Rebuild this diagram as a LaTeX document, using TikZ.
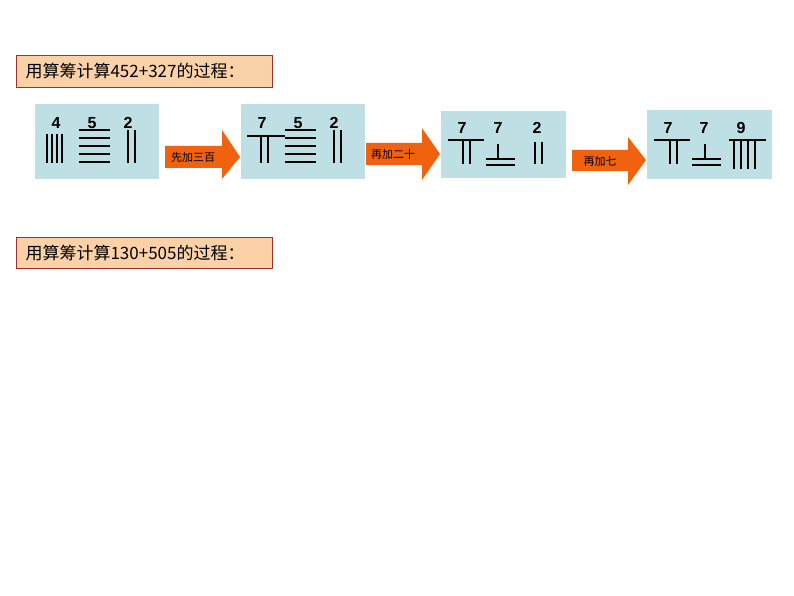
\documentclass[tikz,border=0pt]{standalone}
\usepackage{fontspec}
\setmainfont{Liberation Sans}
\newfontfamily\cjk{Noto Sans CJK SC}
\usetikzlibrary{shapes.arrows}
\definecolor{panelc}{HTML}{BEDFE3}
\definecolor{titlec}{HTML}{FBD1A8}
\definecolor{titleb}{HTML}{A0302A}
\definecolor{arrc}{HTML}{F0620F}
\tikzset{
 panel/.style={fill=panelc,draw=none},
 titlebox/.style={fill=titlec,draw=titleb,line width=0.8pt},
 rod/.style={line width=2.4pt,black},
 dig/.style={font=\bfseries\fontsize{16}{16}\selectfont,inner sep=0pt},
 arrlab/.style={font=\cjk\fontsize{11}{11}\selectfont,inner sep=0pt},
 bigarrow/.style={fill=arrc,draw=none}
}
\begin{document}
\begin{tikzpicture}[x=1pt,y=-1pt]
\useasboundingbox (0,0) rectangle (794,596);
% titles
\draw[titlebox] (16,55) rectangle (272,87);
\node[anchor=west,font=\cjk\fontsize{17}{17}\selectfont] (t1) at (22,71) {用算筹计算452+327的过程：};
\draw[titlebox] (16,237) rectangle (272,268);
\node[anchor=west,font=\cjk\fontsize{17}{17}\selectfont] (t2) at (22,253) {用算筹计算130+505的过程：};
% panels
\fill[panel] (35,104) rectangle (159,179);
\fill[panel] (241,104) rectangle (365,179);
\fill[panel] (441,111) rectangle (566,178);
\fill[panel] (647,110) rectangle (772,179);
% arrows
\fill[bigarrow] (165,146) -- (222,146) -- (222,130) -- (240,157) -- (222,179) -- (222,168) -- (165,168) -- cycle;
\node[arrlab] (a1) at (193,157) {先加三百};
\fill[bigarrow] (366,143) -- (422,143) -- (422,128) -- (440,154) -- (422,180) -- (422,165) -- (366,165) -- cycle;
\node[arrlab] (a2) at (393,154) {再加二十};
\fill[bigarrow] (572,150) -- (628,150) -- (628,137) -- (646,160) -- (628,185) -- (628,171) -- (572,171) -- cycle;
\node[arrlab] (a3) at (600,161) {再加七};
% panel 1
\node[dig] at (56,123) {4};\node[dig] at (92,123) {5};\node[dig] at (128,123) {2};
\foreach \x in {47,52,57,62} \draw[rod] (\x,134) -- (\x,163);
\foreach \y in {130,138,146,154,162} \draw[rod] (79,\y) -- (110,\y);
\foreach \x in {128,135} \draw[rod] (\x,130) -- (\x,163);
% panel 2
\node[dig] at (262,123) {7};\node[dig] at (298,123) {5};\node[dig] at (334,123) {2};
\draw[rod] (247,136) -- (285,136);
\foreach \x in {261,268} \draw[rod] (\x,136) -- (\x,163);
\foreach \y in {130,138,146,154,162} \draw[rod] (285,\y) -- (316,\y);
\foreach \x in {334,341} \draw[rod] (\x,130) -- (\x,163);
% panel 3
\node[dig] at (462,128) {7};\node[dig] at (498,128) {7};\node[dig] at (537,128) {2};
\draw[rod] (448,140) -- (484,140);
\foreach \x in {463,470} \draw[rod] (\x,140) -- (\x,164);
\draw[rod] (498,144) -- (498,159);
\draw[rod] (486,159) -- (515,159);
\draw[rod] (486,165) -- (515,165);
\foreach \x in {535,542} \draw[rod] (\x,142) -- (\x,164);
% panel 4
\node[dig] at (668,128) {7};\node[dig] at (704,128) {7};\node[dig] at (741,128) {9};
\draw[rod] (654,140) -- (690,140);
\foreach \x in {670,677} \draw[rod] (\x,140) -- (\x,164);
\draw[rod] (705,144) -- (705,159);
\draw[rod] (692,159) -- (721,159);
\draw[rod] (692,165) -- (721,165);
\draw[rod] (729,140) -- (766,140);
\foreach \x in {734,741,748,755} \draw[rod] (\x,140) -- (\x,169);
\end{tikzpicture}
\end{document}
